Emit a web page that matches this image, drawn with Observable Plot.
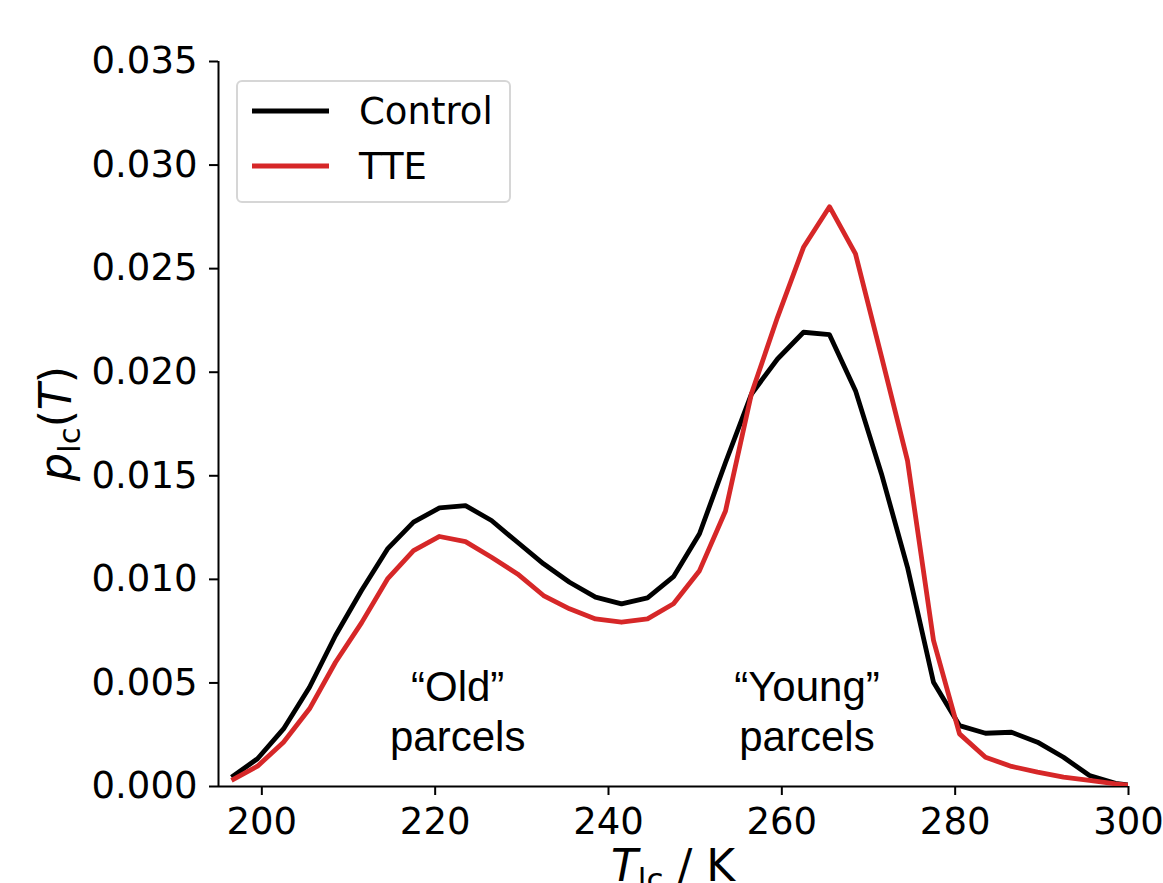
<!DOCTYPE html>
<html>
<head>
<meta charset="utf-8">
<script src="https://cdn.jsdelivr.net/npm/d3@7"></script>
<script src="https://cdn.jsdelivr.net/npm/@observablehq/plot@0.6"></script>
<style>
  html, body { margin: 0; padding: 0; background: #ffffff; }
  #chart svg { display: block; }
</style>
</head>
<body>
<div id="chart"></div>
<script>
// ---- Data ----
const temperature = [196.5, 199.5, 202.5, 205.5, 208.5, 211.5, 214.5, 217.5, 220.5, 223.5, 226.5, 229.5,
  232.5, 235.5, 238.5, 241.5, 244.5, 247.5, 250.5, 253.5, 256.5, 259.5, 262.5, 265.5, 268.5, 271.5,
  274.5, 277.5, 280.5, 283.5, 286.5, 289.5, 292.5, 295.5, 298.5, 301.5];
const controlValues = [0.00045, 0.00134, 0.00278, 0.00479, 0.00729, 0.00946, 0.01147, 0.01276, 0.01345, 0.01356,
  0.01284, 0.01179, 0.01075, 0.00986, 0.00914, 0.00882, 0.00911, 0.01013, 0.01220, 0.01564, 0.01895,
  0.02064, 0.02193, 0.02181, 0.01911, 0.01509, 0.01058, 0.00503, 0.00294, 0.00257, 0.00262, 0.00214,
  0.00141, 0.00053, 0.00015, 0.0];
const tteValues = [0.00030, 0.00098, 0.00214, 0.00375, 0.00600, 0.00790, 0.01002, 0.01139, 0.01207, 0.01182,
  0.01107, 0.01026, 0.00922, 0.00858, 0.00809, 0.00793, 0.00809, 0.00882, 0.01042, 0.01330, 0.01897,
  0.02265, 0.02603, 0.02799, 0.02571, 0.02075, 0.01573, 0.00705, 0.00254, 0.00141, 0.00097, 0.00069,
  0.00045, 0.00029, 0.00013, 0.0];
const seriesNames = ["Control", "TTE"];
const seriesColors = ["#000000", "#d62728"];
const xDomain = [195, 300];
const yDomain = [0, 0.035];
const xTicks = [200, 220, 240, 260, 280, 300];
const yTicks = [0, 0.005, 0.010, 0.015, 0.020, 0.025, 0.030, 0.035];
const annotationText = ["\u201COld\u201D\nparcels", "\u201CYoung\u201D\nparcels"];
const annotationT = [222.6, 262.9];
const annotationP = [0.0037, 0.0037];

// ---- Build tables ----
const control = temperature.map((t, i) => ({t, p: controlValues[i]}));
const tte = temperature.map((t, i) => ({t, p: tteValues[i]}));
const annotations = annotationText.map((text, i) => ({text, t: annotationT[i], p: annotationP[i]}));

const W = 1163, H = 883;
const chart = Plot.plot({
  width: W,
  height: H,
  marginLeft: 218,
  marginRight: 35,
  marginTop: 61,
  marginBottom: 97,
  style: {fontFamily: "DejaVu Sans", fontSize: "36px", background: "#ffffff", color: "#000000"},
  x: {domain: xDomain, label: null},
  y: {domain: yDomain, label: null},
  marks: [
    Plot.axisX({ticks: xTicks, tickFormat: d => String(d), tickSize: 9, tickPadding: 12,
      fontSize: 37, strokeWidth: 2, label: null}),
    Plot.axisY({ticks: yTicks, tickFormat: d3.format(".3f"), tickSize: 9, tickPadding: 12,
      fontSize: 37, strokeWidth: 2, label: null}),
    Plot.ruleY([yDomain[0]], {stroke: "#000000", strokeWidth: 2}),
    Plot.ruleX([xDomain[0]], {stroke: "#000000", strokeWidth: 2}),
    Plot.line(control, {x: "t", y: "p", stroke: seriesColors[0], strokeWidth: 4.8, clip: true,
      strokeLinejoin: "round", strokeLinecap: "butt"}),
    Plot.line(tte, {x: "t", y: "p", stroke: seriesColors[1], strokeWidth: 4.8, clip: true,
      strokeLinejoin: "round", strokeLinecap: "butt"}),
    Plot.text(annotations, {x: "t", y: "p", text: "text", fontSize: 42, lineHeight: 1.2,
      fontFamily: "Liberation Sans, Arial, sans-serif", fill: "#000000", lineAnchor: "middle", textAnchor: "middle"})
  ]
});

document.getElementById("chart").appendChild(chart);

// ---- Axis labels with sub/italic text ----
const svg = d3.select(chart);
const xs = chart.scale("x"), ys = chart.scale("y");
const xMid = (xs.apply(xDomain[0]) + xs.apply(xDomain[1])) / 2;
const yMid = (ys.apply(yDomain[0]) + ys.apply(yDomain[1])) / 2;

const xl = svg.append("text")
  .attr("x", xMid).attr("y", 881)
  .attr("text-anchor", "middle")
  .attr("font-family", "DejaVu Sans").attr("font-size", 44).attr("fill", "#000");
xl.append("tspan").attr("font-style", "italic").text("T");
xl.append("tspan").attr("font-size", 31).attr("dy", 9).text("lc");
xl.append("tspan").attr("dy", -9).text(" / K");

const yl = svg.append("text")
  .attr("transform", `translate(71,${yMid}) rotate(-90)`)
  .attr("text-anchor", "middle")
  .attr("font-family", "DejaVu Sans").attr("font-size", 44).attr("fill", "#000");
yl.append("tspan").attr("font-style", "italic").text("p");
yl.append("tspan").attr("font-size", 31).attr("dy", 9).text("lc");
yl.append("tspan").attr("dy", -9).text("(");
yl.append("tspan").attr("font-style", "italic").text("T");
yl.append("tspan").text(")");

// ---- Legend ----
const lg = svg.append("g").attr("font-family", "DejaVu Sans").attr("font-size", 37);
lg.append("rect")
  .attr("x", 237).attr("y", 81).attr("width", 273).attr("height", 121)
  .attr("rx", 5).attr("ry", 5)
  .attr("fill", "#ffffff").attr("fill-opacity", 0.8)
  .attr("stroke", "#d6d6d6").attr("stroke-width", 2);
seriesNames.forEach((name, i) => {
  const cy = 111 + i * 55;
  lg.append("line")
    .attr("x1", 252).attr("x2", 329).attr("y1", cy).attr("y2", cy)
    .attr("stroke", seriesColors[i]).attr("stroke-width", 4.8);
  lg.append("text")
    .attr("x", 359).attr("y", cy + 13)
    .attr("text-anchor", "start")
    .attr("fill", "#000").text(name);
});
</script>
</body>
</html>
